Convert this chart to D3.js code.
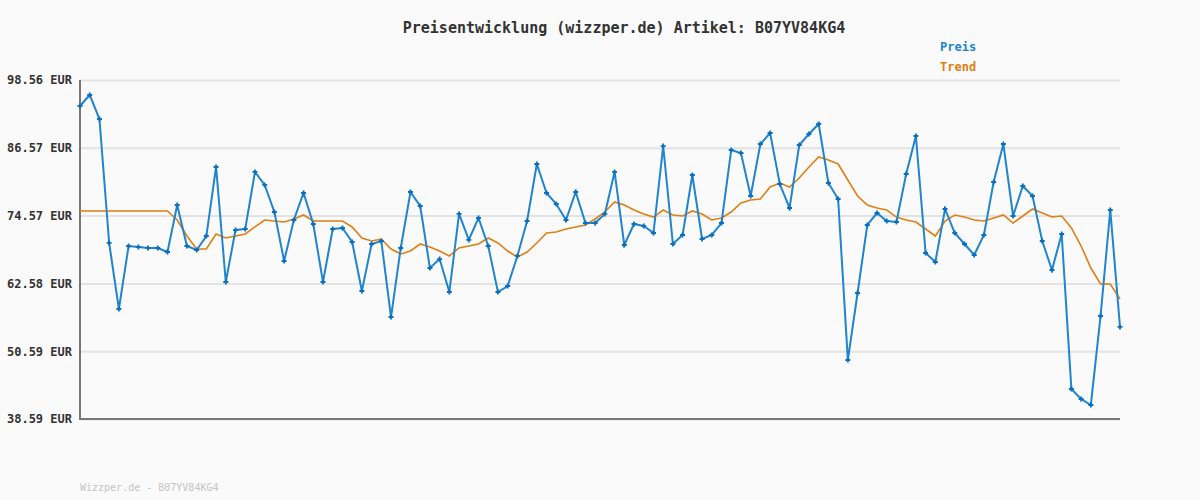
<!DOCTYPE html>
<html><head><meta charset="utf-8">
<script src="https://cdn.jsdelivr.net/npm/d3@7/dist/d3.min.js"></script>
<style>body{margin:0;background:#fafafa}svg{display:block}text{font-family:"DejaVu Sans Mono",monospace}</style>
</head><body><svg id="c" width="1200" height="500"></svg>
<script>
const yTicks=[38.59,50.59,62.58,74.57,86.57,98.56];
const tickLabels=["38.59 EUR","50.59 EUR","62.58 EUR","74.57 EUR","86.57 EUR","98.56 EUR"];
const preis=[93.96,95.91,91.66,69.73,58.05,69.19,69.02,68.84,68.84,68.13,
76.45,69.19,68.49,70.96,83.17,62.83,72.02,72.20,82.29,79.99,
75.21,66.54,73.79,78.57,73.09,62.83,72.20,72.38,69.90,61.23,
69.55,70.08,56.63,68.84,78.75,76.27,65.30,66.89,61.06,74.86,
70.26,74.15,69.19,61.06,62.12,67.43,73.62,83.70,78.57,76.62,
73.79,78.75,73.26,73.26,74.86,82.29,69.37,73.09,72.73,71.49,
86.88,69.55,71.14,81.75,70.43,71.14,73.26,86.18,85.65,78.04,
87.24,89.18,80.16,75.92,87.06,89.01,90.78,80.34,77.51,49.03,
60.88,72.91,75.03,73.62,73.44,81.93,88.65,67.96,66.36,75.74,
71.49,69.55,67.60,71.14,80.52,87.24,74.50,79.81,78.04,70.08,
64.95,71.32,43.90,42.13,41.07,56.81,75.56,54.87];
const trend=[75.39,75.39,75.39,75.39,75.39,75.39,75.39,75.39,75.39,75.39,
73.79,70.96,68.66,68.66,71.32,70.61,70.96,71.32,72.56,73.79,
73.62,73.44,73.97,74.68,73.62,73.62,73.62,73.62,72.56,70.61,
70.08,70.43,68.66,67.78,68.31,69.55,69.02,
68.31,67.43,68.84,69.19,69.55,70.61,69.73,68.31,67.25,68.13,69.73,71.49,71.67,72.20,72.56,72.91,73.97,75.21,76.98,76.45,75.56,74.86,74.32,75.56,74.68,74.50,75.39,74.86,73.79,74.15,75.21,76.80,77.33,77.51,79.63,80.34,
79.63,81.22,83.17,84.94,84.41,83.70,80.87,78.04,76.45,75.92,75.56,74.32,73.79,73.44,72.20,70.96,73.62,74.68,74.32,73.79,73.62,74.15,74.68,73.26,74.50,75.74,75.03,74.32,74.50,72.38,69.19,65.30,62.47,62.47,59.82];
const title="Preisentwicklung (wizzper.de) Artikel: B07YV84KG4";
const footer="Wizzper.de - B07YV84KG4";
const svg=d3.select("#c");
const x=d3.scaleLinear().domain([0,preis.length-1]).range([80,1120]);
const y=d3.scaleLinear().domain([38.59,98.56]).range([419,80]);
svg.append("rect").attr("width",1200).attr("height",500).attr("fill","#fafafa");
const ax=svg.append("g").attr("transform","translate(80,0)")
 .call(d3.axisLeft(y).tickValues(yTicks).tickFormat((d,i)=>tickLabels[i]).tickSize(-1040).tickPadding(8));
ax.select(".domain").remove();
ax.selectAll(".tick line").attr("stroke","#e3e3e3").attr("stroke-width",2);
ax.selectAll(".tick text").attr("font-size",12).attr("font-weight","bold").attr("fill","#333");
svg.append("line").attr("x1",80).attr("x2",80).attr("y1",80).attr("y2",420).attr("stroke","#777").attr("stroke-width",2);
svg.append("line").attr("x1",80).attr("x2",1120).attr("y1",419).attr("y2",419).attr("stroke","#777").attr("stroke-width",2);
const line=d3.line().x((d,i)=>x(i)).y(d=>y(d));
svg.append("path").datum(trend).attr("d",line).attr("fill","none").attr("stroke","#e07f12").attr("stroke-width",1.6);
svg.append("path").datum(preis).attr("d",line).attr("fill","none").attr("stroke","#2184cf").attr("stroke-width",2);
svg.selectAll(".m").data(preis).join("path").attr("d","M-2.5,0H2.5M0,-2.5V2.5")
 .attr("transform",(d,i)=>`translate(${x(i)},${y(d)})`).attr("stroke","#0a6fbf").attr("stroke-width",1.8);
svg.append("text").attr("x",624).attr("y",33).attr("text-anchor","middle").attr("font-size",15).attr("font-weight","bold").attr("fill","#333").text(title);
svg.append("text").attr("x",940).attr("y",51).attr("font-size",12).attr("font-weight","bold").attr("fill","#2184cf").text("Preis");
svg.append("text").attr("x",940).attr("y",71).attr("font-size",12).attr("font-weight","bold").attr("fill","#e07f12").text("Trend");
svg.append("text").attr("x",80).attr("y",491).attr("font-size",10).attr("fill","#c4c4c4").text(footer);
</script></body></html>
